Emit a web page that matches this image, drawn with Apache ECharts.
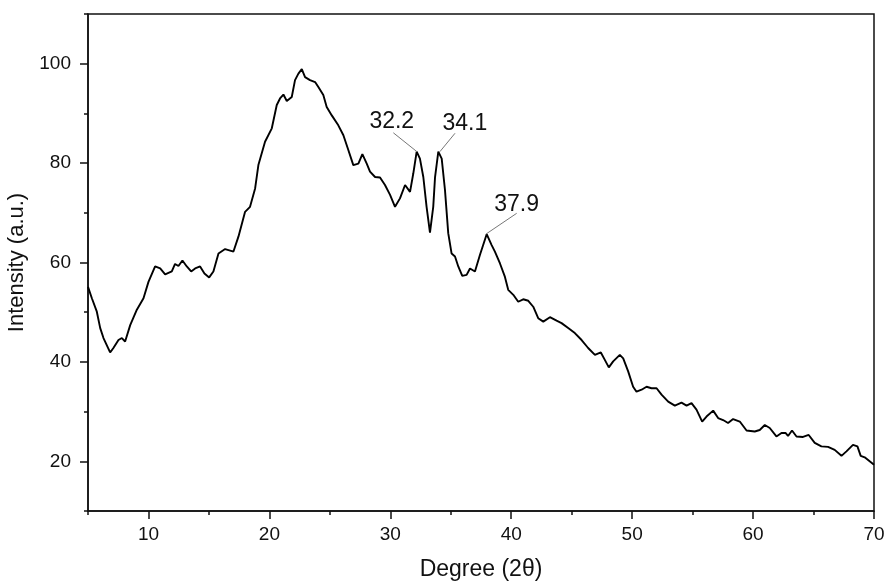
<!DOCTYPE html>
<html>
<head>
<meta charset="utf-8">
<title>XRD pattern</title>
<script src="https://cdn.jsdelivr.net/npm/echarts@6/dist/echarts.min.js"></script>
<style>
  html, body { margin: 0; padding: 0; background: #fff; }
  #chart { width: 888px; height: 583px; }
</style>
</head>
<body>
<div id="chart"></div>
<script>
// 2theta (degree)
var degree = [5.0, 5.32, 5.73, 6.01, 6.28, 6.83, 7.1, 7.52, 7.8, 8.07, 8.49, 9.04, 9.59, 10.0, 10.55, 10.97, 11.38, 11.93, 12.2, 12.48, 12.81, 13.17, 13.53, 13.86, 14.27, 14.63, 15.02, 15.37, 15.79, 16.34, 17.03, 17.44, 17.99, 18.4, 18.82, 19.09, 19.64, 20.2, 20.61, 20.88, 21.16, 21.44, 21.85, 22.12, 22.4, 22.68, 22.95, 23.36, 23.78, 24.05, 24.46, 24.74, 25.16, 25.7, 26.12, 26.48, 26.94, 27.36, 27.69, 28.05, 28.32, 28.74, 29.15, 29.56, 29.98, 30.39, 30.8, 31.22, 31.63, 31.9, 32.18, 32.45, 32.73, 33.0, 33.28, 33.55, 33.7, 33.97, 34.25, 34.52, 34.79, 35.07, 35.35, 35.62, 35.95, 36.31, 36.59, 37.0, 37.41, 37.97, 38.38, 38.65, 39.07, 39.48, 39.75, 40.17, 40.58, 40.99, 41.41, 41.82, 42.23, 42.65, 43.2, 43.75, 44.16, 44.71, 45.26, 45.82, 46.36, 46.92, 47.41, 47.74, 48.07, 48.43, 48.98, 49.26, 49.67, 50.08, 50.36, 50.78, 51.19, 51.6, 52.02, 52.43, 52.98, 53.53, 54.08, 54.5, 54.91, 55.32, 55.79, 56.15, 56.7, 57.11, 57.52, 57.93, 58.35, 58.9, 59.46, 60.14, 60.55, 60.97, 61.38, 61.93, 62.35, 62.68, 62.89, 63.22, 63.59, 64.13, 64.6, 65.1, 65.65, 66.2, 66.75, 67.31, 67.72, 68.26, 68.63, 68.9, 69.23, 70.0];
var intensity = [55.1, 52.8, 50.1, 46.8, 44.8, 41.9, 42.8, 44.4, 44.8, 44.1, 47.4, 50.5, 52.8, 56.1, 59.2, 58.8, 57.6, 58.2, 59.7, 59.3, 60.4, 59.2, 58.2, 58.8, 59.2, 57.8, 57.0, 58.2, 61.8, 62.7, 62.2, 65.2, 70.2, 71.2, 74.9, 79.6, 84.3, 87.0, 91.7, 93.0, 93.8, 92.5, 93.3, 96.7, 98.0, 98.9, 97.3, 96.7, 96.3, 95.3, 93.7, 91.3, 89.6, 87.6, 85.6, 83.0, 79.6, 79.9, 81.8, 79.9, 78.3, 77.2, 77.1, 75.6, 73.6, 71.2, 72.9, 75.6, 74.2, 77.9, 82.3, 80.9, 77.2, 71.2, 66.0, 71.2, 77.2, 82.3, 80.9, 74.6, 65.9, 61.8, 61.2, 59.2, 57.3, 57.5, 58.8, 58.2, 61.5, 65.7, 63.5, 62.2, 59.8, 57.1, 54.5, 53.5, 52.1, 52.6, 52.3, 51.1, 48.8, 48.1, 49.0, 48.3, 47.8, 46.8, 45.8, 44.4, 42.8, 41.4, 41.9, 40.4, 38.9, 40.1, 41.4, 40.7, 38.1, 35.0, 34.0, 34.4, 35.0, 34.7, 34.7, 33.4, 32.0, 31.2, 31.8, 31.2, 31.7, 30.4, 28.0, 29.0, 30.2, 28.7, 28.3, 27.7, 28.5, 28.0, 26.2, 26.0, 26.3, 27.3, 26.7, 25.0, 25.7, 25.7, 25.1, 26.2, 25.0, 24.9, 25.3, 23.7, 23.0, 22.9, 22.3, 21.1, 22.0, 23.3, 23.0, 21.1, 20.8, 19.3];

// tick labels
var xTicks = [10, 20, 30, 40, 50, 60, 70];
var yTicks = [20, 40, 60, 80, 100];

// peak annotations: peak point and where the label sits (data units)
var peakNames = ['32.2', '34.1', '37.9'];
var peakX = [32.2, 34.1, 37.9];
var peakY = [82.3, 82.3, 65.7];
var leadEndX = [30.25, 35.35, 40.45];
var leadEndY = [86.1, 86.0, 69.9];
var textX = [30.12, 36.17, 40.45];
var textY = [88.3, 88.0, 71.6];

var points = [];
for (var i = 0; i < degree.length; i++) {
    points.push([degree[i], intensity[i]]);
}

var leaders = [];
var labels = [];
for (var k = 0; k < peakNames.length; k++) {
    leaders.push([{ coord: [peakX[k], peakY[k]] }, { coord: [leadEndX[k], leadEndY[k]] }]);
    labels.push({ name: peakNames[k], coord: [textX[k], textY[k]] });
}

var font = 'Liberation Sans, Arial, sans-serif';
var black = '#111';

var myChart = echarts.init(document.getElementById('chart'));
var option = {
    animation: false,
    backgroundColor: '#fff',
    grid: {
        left: 88,
        right: 14,
        top: 14,
        bottom: 72,
        containLabel: false,
        outerBoundsMode: 'none',
        show: true,
        borderColor: black,
        borderWidth: 1.5
    },
    xAxis: [
        {
            type: 'value',
            min: 5,
            max: 70,
            interval: 5,
            name: 'Degree (2θ)',
            nameLocation: 'middle',
            nameGap: 47,
            nameTextStyle: { fontFamily: font, fontSize: 23, color: black },
            axisLine: { lineStyle: { color: black, width: 1.5 } },
            axisTick: { length: 4, lineStyle: { color: black, width: 1.5 } },
            axisLabel: {
                fontFamily: font, fontSize: 19, color: black, margin: 14,
                formatter: function (v) { return xTicks.indexOf(v) >= 0 ? String(v) : ''; }
            },
            splitLine: { show: false }
        },
        {
            // longer major ticks
            type: 'value',
            min: 5,
            max: 70,
            position: 'bottom',
            axisLine: { show: false },
            axisTick: { length: 8, customValues: xTicks, lineStyle: { color: black, width: 1.5 } },
            axisLabel: { show: false },
            splitLine: { show: false }
        }
    ],
    yAxis: [
        {
            type: 'value',
            min: 10,
            max: 110,
            interval: 10,
            name: 'Intensity (a.u.)',
            nameLocation: 'middle',
            nameGap: 54,
            nameTextStyle: { fontFamily: font, fontSize: 22, color: black },
            axisLine: { show: true, lineStyle: { color: black, width: 1.5 } },
            axisTick: { show: true, length: 4, lineStyle: { color: black, width: 1.5 } },
            axisLabel: {
                fontFamily: font, fontSize: 19, color: black, margin: 17,
                formatter: function (v) { return yTicks.indexOf(v) >= 0 ? String(v) : ''; }
            },
            splitLine: { show: false }
        },
        {
            type: 'value',
            min: 10,
            max: 110,
            position: 'left',
            axisLine: { show: false },
            axisTick: { show: true, length: 8, customValues: yTicks, lineStyle: { color: black, width: 1.5 } },
            axisLabel: { show: false },
            splitLine: { show: false }
        }
    ],
    series: [
        {
            type: 'line',
            data: points,
            showSymbol: false,
            symbol: 'none',
            lineStyle: { color: '#000', width: 1.9 },
            markLine: {
                silent: true,
                symbol: ['none', 'none'],
                label: { show: false },
                lineStyle: { color: '#777', width: 1, type: 'solid' },
                data: leaders
            },
            markPoint: {
                silent: true,
                symbol: 'rect',
                symbolSize: 1,
                itemStyle: { color: 'rgba(0,0,0,0)' },
                label: {
                    show: true,
                    position: 'inside',
                    formatter: '{b}',
                    fontFamily: font,
                    fontSize: 23,
                    color: black
                },
                data: labels
            }
        }
    ]
};
myChart.setOption(option);
</script>
</body>
</html>
